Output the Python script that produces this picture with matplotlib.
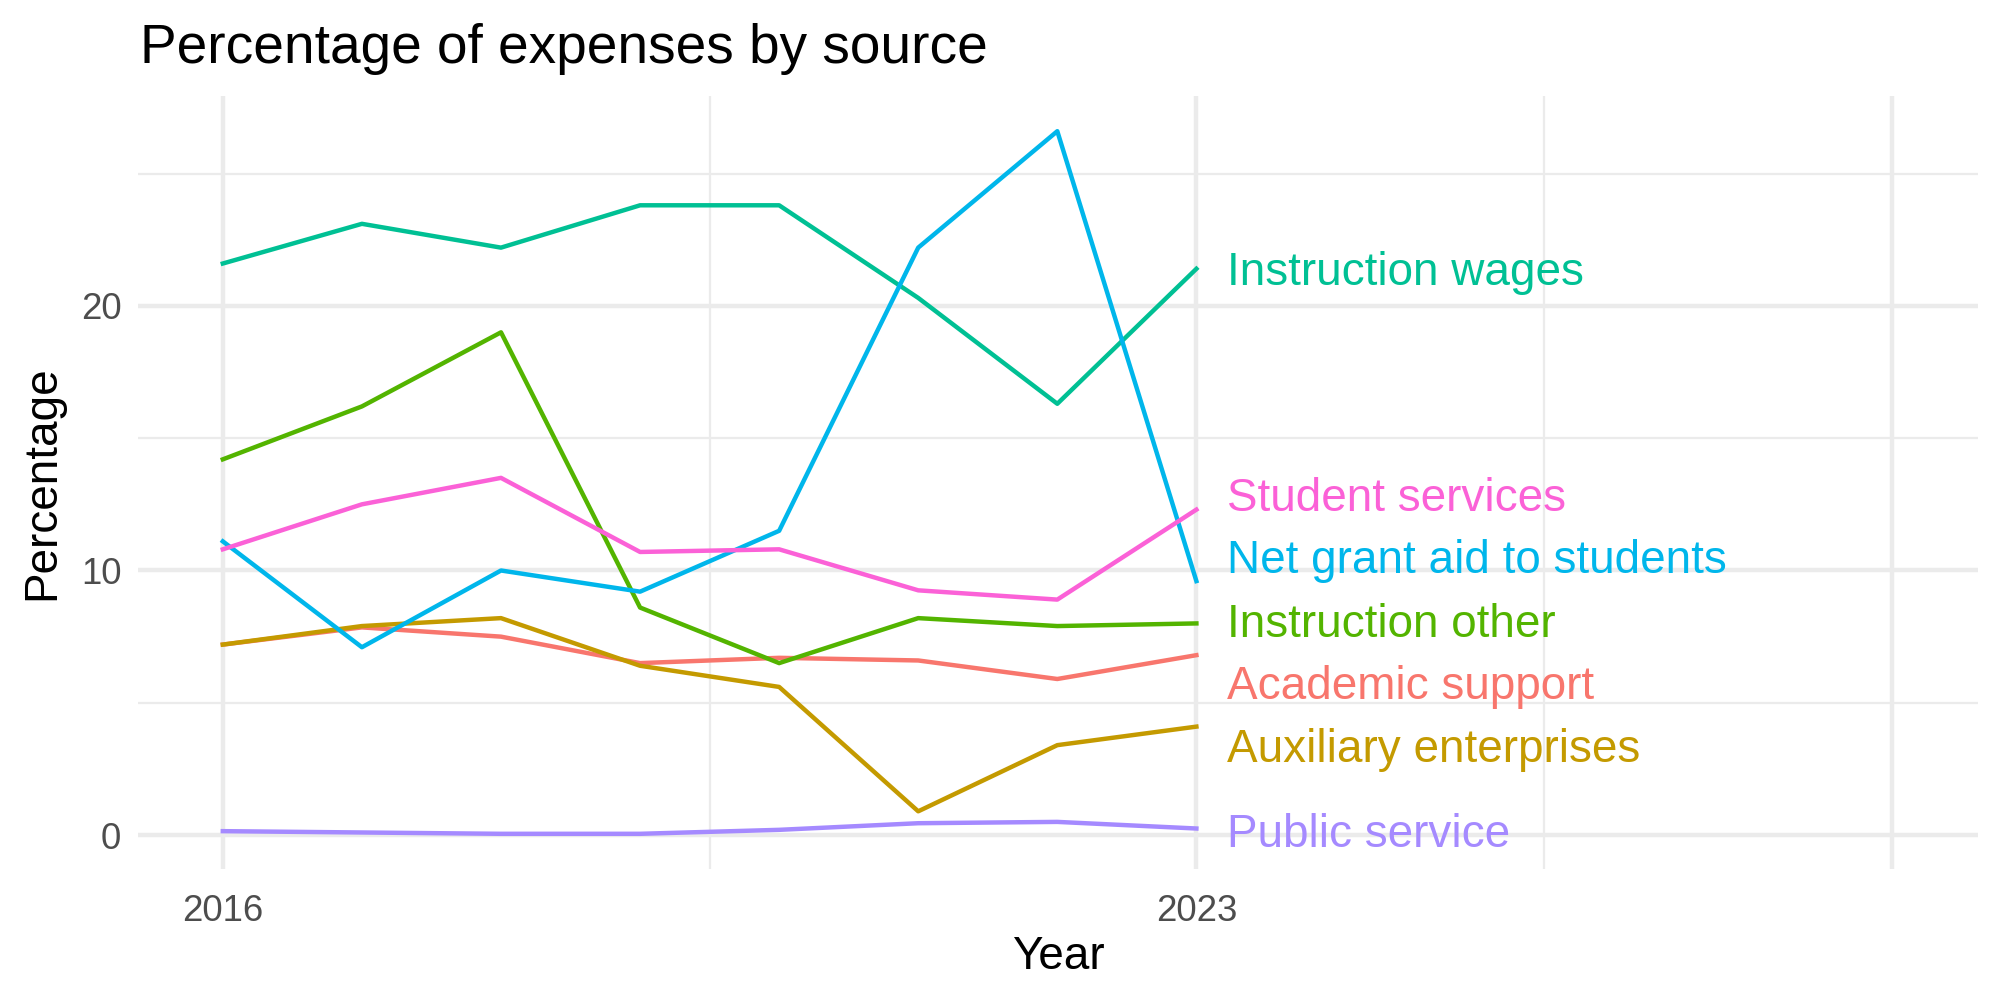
import numpy as np
import pandas as pd
import matplotlib.pyplot as plt

plt.rcParams['font.family'] = ['Liberation Sans', 'DejaVu Sans']

years = [2016, 2017, 2018, 2019, 2020, 2021, 2022, 2023]

sources = ["Academic support", "Auxiliary enterprises", "Instruction other",
           "Instruction wages", "Net grant aid to students", "Public service",
           "Student services"]

academic_support = [7.2, 7.85, 7.5, 6.5, 6.7, 6.6, 5.9, 6.8]
auxiliary = [7.2, 7.9, 8.2, 6.4, 5.6, 0.9, 3.4, 4.1]
instruction_other = [14.2, 16.2, 19.0, 8.6, 6.5, 8.2, 7.9, 8.0]
instruction_wages = [21.6, 23.1, 22.2, 23.8, 23.8, 20.3, 16.3, 21.4]
net_grant_aid = [11.1, 7.1, 10.0, 9.2, 11.5, 22.2, 26.6, 9.6]
public_service = [0.15, 0.1, 0.05, 0.05, 0.2, 0.45, 0.5, 0.25]
student_services = [10.8, 12.5, 13.5, 10.7, 10.8, 9.25, 8.9, 12.3]

colors = ["#F8766D", "#C49A00", "#53B400", "#00C094", "#00B6EB", "#A58AFF", "#FB61D7"]

# where the end labels sit (repelled)
label_y = [5.6, 3.2, 7.95, 21.25, 10.35, 0.02, 12.72]

df = pd.DataFrame({
    "Year": years * len(sources),
    "Source": np.repeat(sources, len(years)),
    "Percentage": (academic_support + auxiliary + instruction_other + instruction_wages
                   + net_grant_aid + public_service + student_services),
})

fig = plt.figure(figsize=(10, 5), dpi=200)
ax = fig.add_axes([0.069, 0.131, 0.920, 0.773])

grid = "#EBEBEB"
for y in [0, 10, 20]:
    ax.axhline(y, color=grid, lw=1.6, zorder=0)
for y in [5, 15, 25]:
    ax.axhline(y, color=grid, lw=0.8, zorder=0)
for x in [2016, 2023, 2028]:
    ax.axvline(x, color=grid, lw=1.6, zorder=0)
for x in [2019.5, 2025.5]:
    ax.axvline(x, color=grid, lw=0.8, zorder=0)

for i, src in enumerate(sources):
    d = df[df["Source"] == src]
    ax.plot(d["Year"], d["Percentage"], color=colors[i], lw=1.6, zorder=2)
    ax.text(2023.22, label_y[i], src, color=colors[i], fontsize=16.5,
            ha='left', va='center', zorder=3)

ax.set_xlim(2015.39, 2028.62)
ax.set_ylim(-1.28, 27.93)
ax.set_xticks([2016, 2023])
ax.set_yticks([0, 10, 20])
ax.tick_params(length=0, labelsize=13.2, labelcolor="#4D4D4D")
ax.tick_params(axis='x', pad=9)
ax.tick_params(axis='y', pad=6)
for s in ax.spines.values():
    s.set_visible(False)

ax.set_xlabel("Year", fontsize=16.5, labelpad=2)
ax.set_ylabel("Percentage", fontsize=16.5, labelpad=6)
fig.text(0.07, 0.951, "Percentage of expenses by source", fontsize=19.8,
         ha='left', va='center')

fig.savefig("out.png", dpi=200)
